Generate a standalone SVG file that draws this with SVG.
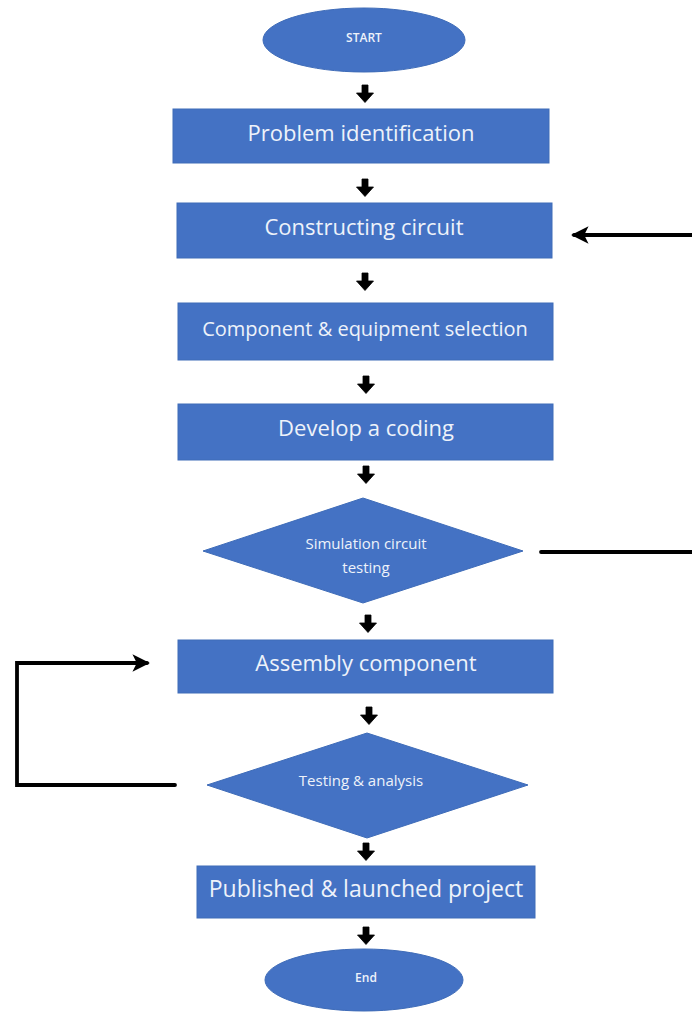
<svg xmlns="http://www.w3.org/2000/svg" width="692" height="1012" viewBox="0 0 692 1012">
  <style>
    .shape { fill: #4472c4; stroke: #3f6cb8; stroke-width: 1; }
    .lbl { fill: #eef2fa; font-family: "Open Sans", "Noto Sans", sans-serif; text-anchor: middle; dominant-baseline: central; }
    .big { font-size: 22px; }
    .mid { font-size: 20px; }
    .small { font-size: 15px; }
    .tiny { font-size: 12px; font-weight: 600; }
    .wire { fill: none; stroke: #000; stroke-width: 3.8; stroke-linejoin: miter; stroke-linecap: round; }
  </style>
  <defs>
    <!-- short bold down arrow between steps -->
    <path id="down" d="M-3,0 H3 V8 H8.5 L0,17.5 L-8.5,8 H-3 Z" fill="#000" stroke="#000" stroke-width="0.8" stroke-linejoin="round"/>
    <marker id="head" viewBox="0 0 12 12" refX="10" refY="6" markerWidth="4.6" markerHeight="4.6" orient="auto" markerUnits="strokeWidth">
      <path d="M0,0 L12,6 L0,12 L3,6 Z" fill="#000"/>
    </marker>
  </defs>
  <rect width="692" height="1012" fill="#fff"/>

  <g id="start">
    <ellipse class="shape" cx="364" cy="40" rx="101" ry="32"/>
    <text class="lbl tiny" x="364" y="37">START</text>
  </g>
  <g id="problem">
    <rect class="shape" x="173" y="109" width="376" height="54"/>
    <text class="lbl big" x="361" y="132">Problem identification</text>
  </g>
  <g id="construct">
    <rect class="shape" x="177" y="203" width="375" height="55"/>
    <text class="lbl big" x="364" y="226">Constructing circuit</text>
  </g>
  <g id="component">
    <rect class="shape" x="178" y="303" width="375" height="57"/>
    <text class="lbl mid" x="365" y="328">Component &amp; equipment selection</text>
  </g>
  <g id="coding">
    <rect class="shape" x="178" y="404" width="375" height="56"/>
    <text class="lbl big" x="366" y="427">Develop a coding</text>
  </g>
  <g id="simulation">
    <polygon class="shape" points="363,498 523,551 363,603 203,551"/>
    <text class="lbl small" x="366" y="543">Simulation circuit</text>
    <text class="lbl small" x="366" y="567">testing</text>
  </g>
  <g id="assembly">
    <rect class="shape" x="178" y="640" width="375" height="53"/>
    <text class="lbl big" x="366" y="662">Assembly component</text>
  </g>
  <g id="testing">
    <polygon class="shape" points="367,733 528,785 367,838 207,785"/>
    <text class="lbl small" x="361" y="780">Testing &amp; analysis</text>
  </g>
  <g id="published">
    <rect class="shape" x="197" y="866" width="338" height="52"/>
    <text class="lbl big" x="366" y="888" style="font-size:23px">Published &amp; launched project</text>
  </g>
  <g id="end">
    <ellipse class="shape" cx="364" cy="980" rx="99" ry="31"/>
    <text class="lbl tiny" x="366" y="977">End</text>
  </g>

  <g id="connectors">
    <use href="#down" x="365" y="85"/>
    <use href="#down" x="365" y="179"/>
    <use href="#down" x="365" y="273"/>
    <use href="#down" x="366" y="376"/>
    <use href="#down" x="366" y="466"/>
    <use href="#down" x="368" y="615"/>
    <use href="#down" x="369" y="707"/>
    <use href="#down" x="366" y="843"/>
    <use href="#down" x="366" y="927"/>
    <!-- feedback from simulation back to circuit construction -->
    <line class="wire" x1="541" y1="552" x2="692" y2="552"/>
    <line class="wire" x1="692" y1="235" x2="574" y2="235" marker-end="url(#head)"/>
    <!-- feedback from testing back to assembly -->
    <polyline class="wire" points="175,785 17,785 17,663 147,663" marker-end="url(#head)"/>
  </g>
</svg>
